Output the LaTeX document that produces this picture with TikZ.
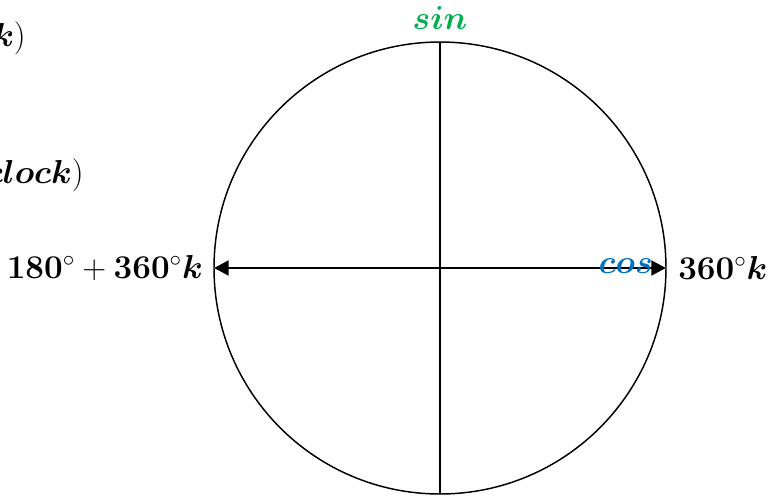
\documentclass[tikz,border=0pt]{standalone}
\usepackage{amsmath,bm}
\usetikzlibrary{arrows.meta}
\definecolor{singreen}{RGB}{0,176,80}
\definecolor{cosblue}{RGB}{0,112,192}
\tikzset{
  lbl/.style={inner sep=0pt, font=\huge, scale=1.2, transform shape},
  axisline/.style={line width=1.1pt},
  dblarrow/.style={line width=2.2pt, {Triangle[length=11pt,width=11pt]}-{Triangle[length=11pt,width=11pt]}}
}
\begin{document}
\begin{tikzpicture}[x=0.75pt,y=-0.75pt]
\useasboundingbox (0,0) rectangle (783,497);
\clip (0,0) rectangle (783,497);
\node[draw, circle, line width=1.1pt, minimum size=339pt, inner sep=0pt, outer sep=0pt] (circ) at (440,268) {};
\draw[axisline] (circ.north) -- (circ.south);
\draw[dblarrow] (circ.west) -- (circ.east);
\node[lbl, text=cosblue, anchor=east] (coslbl) at (653,266) {$\boldsymbol{cos}$};
\node[lbl, text=singreen] (sinlbl) at (440,18) {$\boldsymbol{sin}$};
\node[lbl, anchor=west] (right) at (678,268) {$\mathbf{360^\circ}\boldsymbol{k}$};
\node[lbl, anchor=east] (left) at (203,268) {$\mathbf{180^\circ + 360^\circ}\boldsymbol{k}$};
\node[lbl, anchor=east] (topk) at (26,38) {$\boldsymbol{k}\mathbf{)}$};
\node[lbl, anchor=east] (clk) at (84,175) {$\boldsymbol{clock}\mathbf{)}$};
\end{tikzpicture}
\end{document}
